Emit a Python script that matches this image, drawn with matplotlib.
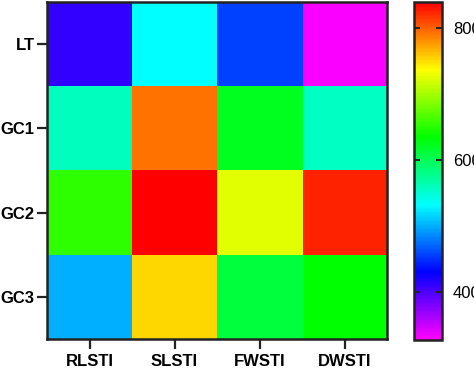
import numpy as np
import matplotlib
matplotlib.use("Agg")
import matplotlib.pyplot as plt
from matplotlib.colors import LinearSegmentedColormap

rows = ["LT", "GC1", "GC2", "GC3"]
cols = ["RLSTI", "SLSTI", "FWSTI", "DWSTI"]
values_lt = [410, 532, 455, 330]
values_gc1 = [557, 791, 621, 555]
values_gc2 = [652, 839, 724, 823]
values_gc3 = [500, 752, 609, 634]
cbar_ticks = [400, 600, 800]
vmin, vmax = 327, 839

data = np.array([values_lt, values_gc1, values_gc2, values_gc3], dtype=float)

cmap = LinearSegmentedColormap.from_list(
    "prism_rainbow",
    [(0.0, (1, 0, 1)), (0.2, (0, 0, 1)), (0.4, (0, 1, 1)),
     (0.6, (0, 1, 0)), (0.8, (1, 1, 0)), (1.0, (1, 0, 0))])

plt.rcParams['font.family'] = ['Liberation Sans', 'DejaVu Sans']

fig = plt.figure(figsize=(4.74, 3.74), dpi=100)
ax = fig.add_axes([0.0992, 0.0936, 0.7173, 0.901])
cax = fig.add_axes([0.8734, 0.0909, 0.059, 0.904])

im = ax.imshow(data, cmap=cmap, vmin=vmin, vmax=vmax, aspect='auto',
               interpolation='nearest')
ax.set_xticks(range(len(cols)))
ax.set_xticklabels(cols, fontweight='bold', fontsize=12)
ax.set_yticks(range(len(rows)))
ax.set_yticklabels(rows, fontweight='bold', fontsize=12)
ax.tick_params(length=7, width=1.6, pad=2, color='#222222')
ax.tick_params(axis='x', pad=4)
for s in ax.spines.values():
    s.set_linewidth(1.8)
    s.set_color('#222222')

cb = fig.colorbar(im, cax=cax)
cb.set_ticks(cbar_ticks)
cb.set_ticklabels([str(t) for t in cbar_ticks])
cb.outline.set_linewidth(1.8)
cb.outline.set_edgecolor('#222222')
cax.tick_params(direction='in', length=4, width=1.4, pad=8, labelsize=12,
                left=True, right=True, color='#222222')

fig.savefig("out.png", dpi=100)
